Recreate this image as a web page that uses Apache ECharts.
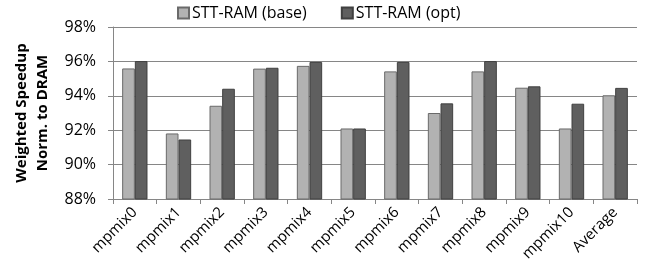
<!DOCTYPE html>
<html><head><meta charset="utf-8">
<script src="https://cdn.jsdelivr.net/npm/echarts@6/dist/echarts.min.js"></script>
<style>html,body{margin:0;padding:0;background:#fff}#c{width:661px;height:280px}</style>
</head><body><div id="c"></div>
<script>
const categories = ['mpmix0','mpmix1','mpmix2','mpmix3','mpmix4','mpmix5','mpmix6','mpmix7','mpmix8','mpmix9','mpmix10','Average'];
const baseValues = [95.59, 91.81, 93.42, 95.58, 95.74, 92.1, 95.42, 93.0, 95.42, 94.47, 92.1, 94.03];
const optValues  = [96.02, 91.46, 94.41, 95.63, 95.97, 92.1, 95.97, 93.56, 96.02, 94.55, 93.54, 94.46];
const seriesNames = ['STT-RAM (base)', 'STT-RAM (opt)'];
const yTicks = {min: 88, max: 98, interval: 2};

const font = '"Open Sans", "Liberation Sans", sans-serif';
const chart = echarts.init(document.getElementById('c'), null, {renderer: 'canvas'});
chart.setOption({
  animation: false,
  textStyle: {fontFamily: font},
  legend: {
    top: 0, left: 172, itemGap: 34, itemWidth: 11, itemHeight: 11,
    icon: 'rect',
    textStyle: {fontFamily: font, fontSize: 16, color: '#000', padding: [0,0,0,-2]},
    data: seriesNames
  },
  grid: {left: 113, right: 24, top: 27, bottom: 81, outerBoundsMode: 'none', containLabel: false},
  xAxis: {
    type: 'category', data: categories,
    axisLine: {lineStyle: {color: '#868686'}},
    axisTick: {show: true, alignWithLabel: false, length: 5, lineStyle: {color: '#868686'}},
    axisLabel: {rotate: 45, fontFamily: font, fontSize: 15, color: '#000', interval: 0, margin: 11}
  },
  yAxis: {
    type: 'value', min: yTicks.min, max: yTicks.max, interval: yTicks.interval,
    name: 'Weighted Speedup\nNorm. to DRAM', nameLocation: 'middle', nameGap: 58,
    nameTextStyle: {fontFamily: font, fontSize: 15, fontWeight: 'bold', color: '#000', lineHeight: 21},
    axisLine: {show: true, lineStyle: {color: '#868686'}},
    axisTick: {show: true, length: 5, lineStyle: {color: '#868686'}},
    axisLabel: {formatter: v => v + '%', fontFamily: font, fontSize: 16, color: '#000', margin: 17},
    splitLine: {lineStyle: {color: '#868686'}}
  },
  series: [
    {name: seriesNames[0], type: 'bar', data: baseValues, barGap: '0%', barCategoryGap: '42%',
     itemStyle: {color: '#b2b2b2', borderColor: '#6a6a6a', borderWidth: 1}},
    {name: seriesNames[1], type: 'bar', data: optValues,
     itemStyle: {color: '#5f5f5f', borderColor: '#404040', borderWidth: 1}}
  ]
});
</script></body></html>
